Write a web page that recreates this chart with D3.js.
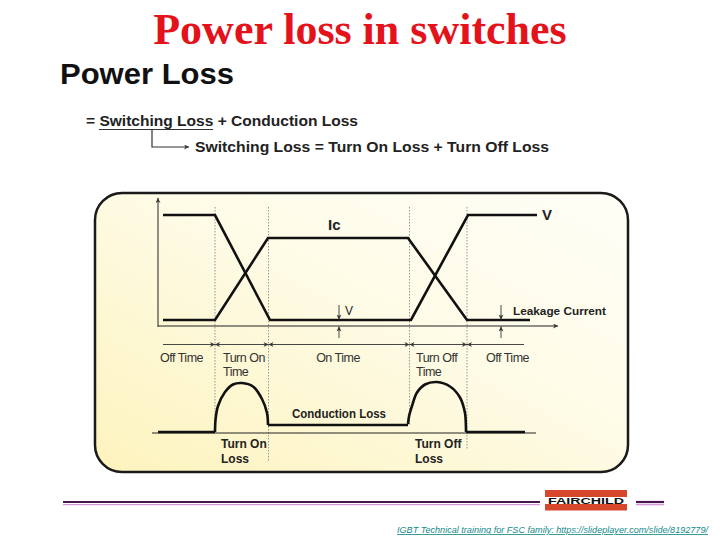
<!DOCTYPE html>
<html><head><meta charset="utf-8">
<script src="https://cdn.jsdelivr.net/npm/d3@7"></script>
<style>
html,body{margin:0;padding:0;background:#fff;}
svg{display:block;}
text{font-family:"Liberation Sans",Arial,sans-serif;}
</style></head>
<body><svg id="c" width="720" height="540"></svg>
<script>
// ---------- data (time units 0..100, amplitude units) ----------
const phaseNames = ["Off Time", "Turn On|Time", "On Time", "Turn Off|Time", "Off Time"];
const phaseBounds = [1.25, 14.25, 27.625, 62.875, 77.25, 91.5];
const edgeTimes = [14.25, 27.625, 62.875, 77.25];

const vTime  = [1.25, 14.25, 28, 63.25, 77.5, 94.75];
const vValue = [8.67, 8.67, 0.47, 0.47, 8.67, 8.67];
const icTime  = [1.25, 14.25, 27.5, 62.5, 77.25, 93];
const icValue = [0.47, 0.47, 6.875, 6.875, 0.47, 0.47];

const offLossATime = [0, 14.25];      const offLossAValue = [0.2, 0.2];
const turnOnTime  = [14.25, 14.4, 15, 16.75, 18.75, 21, 23.75, 26, 27.25, 27.5];
const turnOnValue = [0.2, 2.8, 5.4, 8.2, 9.7, 10, 9.3, 6.8, 4, 1.6];
const condTime = [27.5, 62.5];        const condValue = [1.6, 1.6];
const turnOffTime  = [62.5, 62.8, 63.5, 64.75, 66.75, 69.75, 73, 75.5, 76.75, 76.95, 77];
const turnOffValue = [1.8, 3.5, 5.4, 8.1, 9.7, 10.2, 9.3, 7.1, 4, 2, 0.2];
const offLossBTime = [77, 91.75];     const offLossBValue = [0.2, 0.2];

const vMarkTime = 45.25;      // small "V" marker
const leakMarkTime = 85.75;   // leakage current marker

// ---------- drawing ----------
const svg = d3.select("#c");
const defs = svg.append("defs");
const grad = defs.append("linearGradient").attr("id","pg")
  .attr("x1","100%").attr("y1","0%").attr("x2","0%").attr("y2","100%");
grad.append("stop").attr("offset","0%").attr("stop-color","#fffef7");
grad.append("stop").attr("offset","45%").attr("stop-color","#fefbe6");
grad.append("stop").attr("offset","100%").attr("stop-color","#fdf3bd");

function marker(id, w, h, color){
  defs.append("marker").attr("id",id).attr("viewBox","0 0 10 10")
    .attr("refX",10).attr("refY",5).attr("markerWidth",w).attr("markerHeight",h)
    .attr("markerUnits","userSpaceOnUse").attr("orient","auto")
    .append("path").attr("d","M0,0 L10,5 L0,10 L3,5 Z").attr("fill",color);
}
marker("ah", 8, 6, "#222");
marker("ahs", 7, 5, "#333");
defs.append("marker").attr("id","ahsr").attr("viewBox","0 0 10 10")
  .attr("refX",0).attr("refY",5).attr("markerWidth",7).attr("markerHeight",5)
  .attr("markerUnits","userSpaceOnUse").attr("orient","auto")
  .append("path").attr("d","M10,0 L0,5 L10,10 L7,5 Z").attr("fill","#333");

// Title
svg.append("text").attr("x",360).attr("y",44).attr("text-anchor","middle")
  .style("font-family","'Liberation Serif','Times New Roman',serif").style("font-weight","bold")
  .style("font-size","44px").attr("fill","#e3121b").text("Power loss in switches");

svg.append("text").attr("x",60).attr("y",84).style("font-weight","bold")
  .style("font-size","30px").attr("fill","#111").attr("textLength",174).attr("lengthAdjust","spacingAndGlyphs").text("Power Loss");

svg.append("text").attr("x",86).attr("y",126).style("font-size","15px")
  .style("font-weight","600").attr("fill","#222").attr("textLength",272).attr("lengthAdjust","spacingAndGlyphs")
  .text("= Switching Loss + Conduction Loss");
svg.append("line").attr("x1",99).attr("x2",213).attr("y1",129.5).attr("y2",129.5).attr("stroke","#333").attr("stroke-width",1);
svg.append("path").attr("d","M152,130 V147 H189").attr("fill","none").attr("stroke","#333").attr("stroke-width",1.2)
  .attr("marker-end","url(#ahs)");
svg.append("text").attr("x",195).attr("y",152).style("font-size","15px").style("font-weight","600")
  .attr("fill","#222").attr("textLength",354).attr("lengthAdjust","spacingAndGlyphs")
  .text("Switching Loss  = Turn On Loss + Turn Off Loss");

// Panel
svg.append("rect").attr("x",95).attr("y",193).attr("width",533).attr("height",279)
  .attr("rx",27).attr("ry",27).attr("fill","url(#pg)").attr("stroke","#1a1a1a").attr("stroke-width",2.5);

const x = d3.scaleLinear().domain([0,100]).range([158,558]);
const y = d3.scaleLinear().domain([0,10]).range([326,198]);
const yl = d3.scaleLinear().domain([0,10]).range([433,383]);

// dotted edges
const edgeBottoms = [430, 462, 426, 450];
edgeTimes.forEach((t,i)=>{
  svg.append("line").attr("x1",x(t)).attr("x2",x(t)).attr("y1",207).attr("y2",edgeBottoms[i])
    .attr("stroke","#8a8a8a").attr("stroke-width",0.9).attr("stroke-dasharray","1.5,1.5");
});

// axes
svg.append("line").attr("x1",x(0)).attr("x2",x(0)).attr("y1",y(0)+1).attr("y2",y(10))
  .attr("stroke","#222").attr("stroke-width",1).attr("marker-end","url(#ahs)");
svg.append("line").attr("x1",x(0)).attr("x2",x(100)).attr("y1",y(0)).attr("y2",y(0))
  .attr("stroke","#222").attr("stroke-width",1).attr("marker-end","url(#ahs)");

// waveforms
const line = d3.line().x(d=>x(d[0])).y(d=>y(d[1]));
const zip = (a,b)=>a.map((v,i)=>[v,b[i]]);
svg.append("path").attr("d",line(zip(vTime,vValue))).attr("fill","none").attr("stroke","#111").attr("stroke-width",2.6);
svg.append("path").attr("d",line(zip(icTime,icValue))).attr("fill","none").attr("stroke","#111").attr("stroke-width",2.6);
svg.append("text").attr("x",x(vTime[5])+5).attr("y",y(vValue[5])+5).style("font-size","15px").style("font-weight","bold").attr("fill","#222").text("V");
svg.append("text").attr("x",x(42.5)).attr("y",y(icValue[3])-8).style("font-size","15px").style("font-weight","bold").attr("fill","#222").text("Ic");

// small V / leakage markers
function pinch(t){
  const px = x(t);
  svg.append("line").attr("x1",px).attr("x2",px).attr("y1",305).attr("y2",y(icValue[0])-0.5)
    .attr("stroke","#333").attr("stroke-width",0.9).attr("marker-end","url(#ahs)");
  svg.append("line").attr("x1",px).attr("x2",px).attr("y1",338).attr("y2",y(0)+0.5)
    .attr("stroke","#333").attr("stroke-width",0.9).attr("marker-end","url(#ahs)");
}
pinch(vMarkTime); pinch(leakMarkTime);
svg.append("text").attr("x",x(vMarkTime)+6).attr("y",315).style("font-size","12px").attr("fill","#222").text("V");
svg.append("text").attr("x",x(leakMarkTime)+12).attr("y",315).style("font-size","11.5px").style("font-weight","bold")
  .attr("fill","#222").attr("textLength",93).attr("lengthAdjust","spacingAndGlyphs").text("Leakage Current");

// phase interval arrows
const rowY = 344.5;
for(let i=0;i<phaseBounds.length-1;i++){
  const a = x(phaseBounds[i]), b = x(phaseBounds[i+1]);
  const g = svg.append("line").attr("x1",a).attr("x2",b).attr("y1",rowY).attr("y2",rowY)
    .attr("stroke","#333").attr("stroke-width",0.9);
  if(i>0) g.attr("marker-start","url(#ahsr)");
  if(i<phaseBounds.length-2) g.attr("marker-end","url(#ahs)");
}

const labelX = [160, 223, 338, 416, 486];
const anchors = ["start","start","middle","start","start"];
phaseNames.forEach((n,i)=>{
  n.split("|").forEach((s,j)=>{
    svg.append("text").attr("x",labelX[i]).attr("y",362+j*13.5).attr("text-anchor",anchors[i])
      .style("font-size","12.5px").style("letter-spacing","-0.5px").attr("fill","#333").text(s);
  });
});

// loss waveform
svg.append("line").attr("x1",152).attr("x2",536).attr("y1",yl(0)).attr("y2",yl(0)).attr("stroke","#222").attr("stroke-width",1);
const ll = d3.line().x(d=>x(d[0])).y(d=>yl(d[1]));
const lc = d3.line().x(d=>x(d[0])).y(d=>yl(d[1])).curve(d3.curveCatmullRom.alpha(0.5));
[[offLossATime,offLossAValue,ll],[turnOnTime,turnOnValue,lc],[condTime,condValue,ll],
 [turnOffTime,turnOffValue,lc],[offLossBTime,offLossBValue,ll]].forEach(([t,v,f])=>{
  svg.append("path").attr("d",f(zip(t,v))).attr("fill","none").attr("stroke","#111").attr("stroke-width",2.6);
});
svg.append("text").attr("x",292).attr("y",418).style("font-size","12px").style("font-weight","bold")
  .attr("fill","#222").attr("textLength",94).attr("lengthAdjust","spacingAndGlyphs").text("Conduction Loss");
[["Turn On",221],["Turn Off",415]].forEach(([s,px])=>{
  svg.append("text").attr("x",px).attr("y",448).style("font-size","12px").style("font-weight","bold").attr("fill","#222").text(s);
  svg.append("text").attr("x",px).attr("y",463).style("font-size","12px").style("font-weight","bold").attr("fill","#222").text("Loss");
});

// footer
[[63,540],[636,664]].forEach(([a,b])=>{
  svg.append("line").attr("x1",a).attr("x2",b).attr("y1",502).attr("y2",502).attr("stroke","#4a1552").attr("stroke-width",2.2);
  svg.append("line").attr("x1",a).attr("x2",b).attr("y1",504.6).attr("y2",504.6).attr("stroke","#d59ad8").attr("stroke-width",1.4);
});
svg.append("rect").attr("x",545).attr("y",490).attr("width",82).attr("height",7).attr("fill","#d6472b");
svg.append("rect").attr("x",545).attr("y",504).attr("width",82).attr("height",6.5).attr("fill","#d6472b");
svg.append("text").attr("x",586).attr("y",504).attr("text-anchor","middle").style("font-size","8.5px").style("font-weight","bold")
  .attr("fill","#111").attr("textLength",76).attr("lengthAdjust","spacingAndGlyphs").text("FAIRCHILD");

svg.append("text").attr("x",397).attr("y",533).style("font-size","8.4px").style("font-style","italic")
  .style("text-decoration","underline").attr("fill","#148a8c").attr("textLength",311).attr("lengthAdjust","spacingAndGlyphs")
  .text("IGBT Technical training for FSC family: https://slideplayer.com/slide/8192779/");
</script></body></html>
